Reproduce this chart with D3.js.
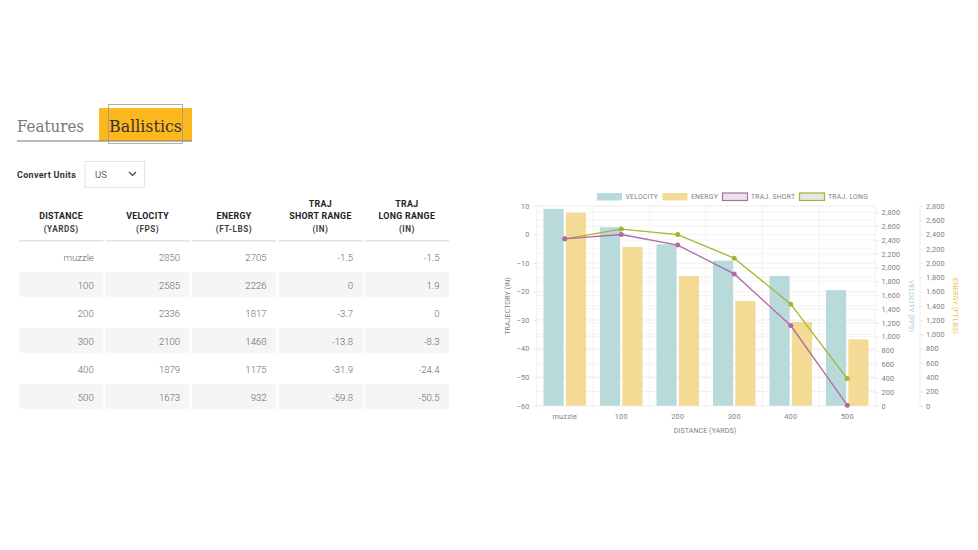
<!DOCTYPE html>
<html>
<head>
<meta charset="utf-8">
<script src="https://cdn.jsdelivr.net/npm/d3@7"></script>
<style>
  html, body { margin: 0; padding: 0; background: #fff; }
  svg { display: block; font-family: Roboto, sans-serif; }
  .axis path { display: none; }
  .axis line { stroke: #e6e6e6; }
  .axis text { fill: #808080; font-size: 7.3px; letter-spacing: 0.2px; font-family: Roboto, sans-serif; }
  .title { fill: #808080; font-size: 7px; letter-spacing: 0.1px; }
</style>
</head>
<body>
<div id="chart"></div>
<script>
// table + chart data
const distances = ['muzzle', '100', '200', '300', '400', '500'];
const velocity = [2850, 2585, 2336, 2100, 1879, 1673];
const energy = [2705, 2226, 1817, 1468, 1175, 932];
const trajShort = [-1.5, 0, -3.7, -13.8, -31.9, -59.8];
const trajLong = [-1.5, 1.9, 0, -8.3, -24.4, -50.5];
const trajTicks = [-60, -50, -40, -30, -20, -10, 0, 10];
const powerTicks = [0, 200, 400, 600, 800, 1000, 1200, 1400, 1600, 1800, 2000, 2200, 2400, 2600, 2800];
const headers = [
    ['DISTANCE', '(YARDS)'],
    ['VELOCITY', '(FPS)'],
    ['ENERGY', '(FT-LBS)'],
    ['TRAJ', 'SHORT RANGE', '(IN)'],
    ['TRAJ', 'LONG RANGE', '(IN)']
];
const legendItems = ['VELOCITY', 'ENERGY', 'TRAJ. SHORT', 'TRAJ. LONG'];

const width = 978, height = 550;
const colors = { velocity: '#b9dadb', energy: '#f3da95', short: '#b469a5', long: '#a5b52f' };

const svg = d3.select('#chart').append('svg')
    .attr('width', width)
    .attr('height', height)
    .attr('viewBox', [0, 0, width, height]);

// tabs
svg.append('rect').attr('x', 99).attr('y', 108).attr('width', 93).attr('height', 33).attr('fill', '#fdb81e');
svg.append('line').attr('x1', 17).attr('x2', 192).attr('y1', 141).attr('y2', 141).attr('stroke', '#777').attr('stroke-width', 1);
svg.append('rect').attr('x', 108.5).attr('y', 104.5).attr('width', 74).attr('height', 39)
    .attr('fill', 'none').attr('stroke', '#999').attr('stroke-width', 0.8);
svg.append('text').attr('x', 17).attr('y', 132).text('Features')
    .attr('font-family', 'DejaVu Serif').attr('font-size', 16).attr('fill', '#777')
    .attr('textLength', 67).attr('lengthAdjust', 'spacingAndGlyphs');
svg.append('text').attr('x', 109).attr('y', 132).text('Ballistics')
    .attr('font-family', 'DejaVu Serif').attr('font-size', 16).attr('fill', '#333')
    .attr('textLength', 73).attr('lengthAdjust', 'spacingAndGlyphs');

// units select
svg.append('text').attr('x', 17).attr('y', 177.5).text('Convert Units')
    .attr('font-size', 9).attr('font-weight', 700).attr('letter-spacing', 0.3).attr('fill', '#333');
svg.append('rect').attr('x', 85).attr('y', 161.5).attr('width', 59.5).attr('height', 26)
    .attr('fill', '#fff').attr('stroke', '#e4e4e4');
svg.append('text').attr('x', 95).attr('y', 177.5).text('US').attr('font-size', 9.5).attr('fill', '#666');
svg.append('path').attr('d', d3.line()([[129, 172], [132.5, 175.5], [136, 172]]))
    .attr('fill', 'none').attr('stroke', '#444').attr('stroke-width', 1.2);

// table
const colX = d3.scaleBand().domain(d3.range(5)).range([19, 449]).paddingInner(0.025);
const rowY = d3.scaleBand().domain(d3.range(6)).range([242.5, 410.5]);
const tableCols = [distances, velocity, energy, trajShort, trajLong];

const cols = svg.append('g').selectAll('g')
    .data(tableCols)
    .join('g')
    .attr('transform', (d, i) => `translate(${colX(i)},0)`);

cols.append('rect')
    .attr('y', 240)
    .attr('width', colX.bandwidth())
    .attr('height', 1.5)
    .attr('fill', '#e3e3e3');

cols.selectAll('.stripe')
    .data(d => d)
    .join('rect')
    .attr('class', 'stripe')
    .attr('y', (d, i) => rowY(i) + 1.5)
    .attr('width', colX.bandwidth())
    .attr('height', 24.7)
    .attr('fill', (d, i) => i % 2 ? '#f5f5f5' : 'none');

cols.selectAll('.val')
    .data(d => d)
    .join('text')
    .attr('class', 'val')
    .attr('x', colX.bandwidth() - 9.5)
    .attr('y', (d, i) => rowY(i) + 18)
    .attr('text-anchor', 'end')
    .attr('font-size', 9.6)
    .attr('font-weight', 300)
    .attr('fill', '#666')
    .text(d => d);

headers.forEach((lines, i) => {
    const bottom = 231.5;
    svg.append('g').selectAll('text')
        .data(lines)
        .join('text')
        .attr('x', colX(i) + colX.bandwidth() / 2)
        .attr('y', (d, j) => bottom - (lines.length - 1 - j) * 12.5)
        .attr('text-anchor', 'middle')
        .attr('font-size', (d, j) => j == lines.length - 1 ? 8.2 : 8.8)
        .attr('font-weight', 700)
        .attr('letter-spacing', (d, j) => j == lines.length - 1 ? 0.5 : 0.3)
        .attr('fill', (d, j) => j == lines.length - 1 ? '#444' : '#222')
        .text(d => d);
});

// chart scales
const plot = { left: 536.5, right: 875.5, top: 206, bottom: 405.7 };

const x = d3.scaleBand().domain(distances).range([plot.left, plot.right]);
const xBars = d3.scaleBand().domain(['velocity', 'energy']).range([7, 49.5]).paddingInner(0.1);
const yTraj = d3.scaleLinear().domain([-60, 10]).range([plot.bottom, plot.top]);
const yVel = d3.scaleLinear().domain([0, 2800]).range([plot.bottom, 212.3]);
const yEng = d3.scaleLinear().domain([0, 2800]).range([plot.bottom, plot.top]);

// grid
const grid = svg.append('g').attr('stroke', '#f0f0f0').attr('stroke-width', 0.8);
grid.selectAll('.h1').data(trajTicks).join('line').attr('class', 'h1')
    .attr('x1', plot.left).attr('x2', plot.right).attr('y1', d => yTraj(d)).attr('y2', d => yTraj(d));
grid.selectAll('.h2').data(powerTicks).join('line').attr('class', 'h2')
    .attr('x1', plot.left).attr('x2', plot.right).attr('y1', d => yVel(d)).attr('y2', d => yVel(d));
grid.selectAll('.h3').data(powerTicks).join('line').attr('class', 'h3')
    .attr('x1', plot.left).attr('x2', plot.right).attr('y1', d => yEng(d)).attr('y2', d => yEng(d));
grid.selectAll('.v').data(distances).join('line').attr('class', 'v')
    .attr('x1', d => x(d)).attr('x2', d => x(d)).attr('y1', plot.top).attr('y2', plot.bottom + 4);
grid.append('line').attr('x1', plot.right).attr('x2', plot.right).attr('y1', plot.top).attr('y2', plot.bottom + 4);

// bars
svg.append('g').selectAll('rect')
    .data(velocity)
    .join('rect')
    .attr('x', (d, i) => x(distances[i]) + xBars('velocity'))
    .attr('y', d => yVel(d))
    .attr('width', xBars.bandwidth())
    .attr('height', d => plot.bottom - yVel(d))
    .attr('fill', colors.velocity);

svg.append('g').selectAll('rect')
    .data(energy)
    .join('rect')
    .attr('x', (d, i) => x(distances[i]) + xBars('energy'))
    .attr('y', d => yEng(d))
    .attr('width', xBars.bandwidth())
    .attr('height', d => plot.bottom - yEng(d))
    .attr('fill', colors.energy);

// traj lines, short goes on top
const trajLine = d3.line()
    .x((d, i) => x(distances[i]) + x.bandwidth() / 2)
    .y(d => yTraj(d));

[[trajLong, colors.long], [trajShort, colors.short]].forEach(([vals, color]) => {
    svg.append('path').attr('d', trajLine(vals))
        .attr('fill', 'none').attr('stroke', color).attr('stroke-width', 1.3);
    svg.append('g').selectAll('circle')
        .data(vals)
        .join('circle')
        .attr('cx', (d, i) => x(distances[i]) + x.bandwidth() / 2)
        .attr('cy', d => yTraj(d))
        .attr('r', 2.5)
        .attr('fill', color);
});

// axes
svg.append('g').attr('class', 'axis')
    .attr('transform', `translate(${plot.left},0)`)
    .call(d3.axisLeft(yTraj).tickValues(trajTicks).tickSize(3).tickPadding(4));

svg.append('g').attr('class', 'axis')
    .attr('transform', `translate(0,${plot.bottom})`)
    .call(d3.axisBottom(x).tickSize(0).tickPadding(8));

svg.append('g').attr('class', 'axis')
    .attr('transform', `translate(${plot.right},0)`)
    .call(d3.axisRight(yVel).tickValues(powerTicks).tickFormat(d3.format(',')).tickSize(3).tickPadding(3));

svg.append('g').attr('class', 'axis')
    .attr('transform', 'translate(920,0)')
    .call(d3.axisRight(yEng).tickValues(powerTicks).tickFormat(d3.format(',')).tickSize(3).tickPadding(3));

svg.append('line').attr('x1', 920).attr('x2', 920).attr('y1', plot.top).attr('y2', plot.bottom).attr('stroke', '#eee');

// axis titles
svg.append('text').attr('class', 'title').attr('text-anchor', 'middle')
    .attr('transform', 'translate(510,306) rotate(-90)').text('TRAJECTORY (IN)');
svg.append('text').attr('class', 'title').attr('text-anchor', 'middle')
    .attr('x', 705).attr('y', 433).text('DISTANCE (YARDS)');
svg.append('text').attr('class', 'title').attr('text-anchor', 'middle')
    .attr('transform', 'translate(909,306) rotate(90)').style('fill', '#9fcfd0').text('VELOCITY (FPS)');
svg.append('text').attr('class', 'title').attr('text-anchor', 'middle')
    .attr('transform', 'translate(953,306) rotate(90)').style('fill', '#e8c65f').text('ENERGY (FT-LBS)');

// legend
const legendX = d3.scaleOrdinal().domain(legendItems).range([597, 662.5, 722.5, 799.5]);
const legendFill = d3.scaleOrdinal().domain(legendItems).range([colors.velocity, colors.energy, '#e6e6e6', '#e6e6e6']);
const legendStroke = d3.scaleOrdinal().domain(legendItems).range(['none', 'none', colors.short, colors.long]);

const legend = svg.append('g').selectAll('g')
    .data(legendItems)
    .join('g')
    .attr('transform', d => `translate(${legendX(d)},193)`);

legend.append('rect')
    .attr('width', 25)
    .attr('height', 7.5)
    .attr('fill', d => legendFill(d))
    .attr('stroke', d => legendStroke(d))
    .attr('stroke-width', 1.2);

legend.append('text')
    .attr('x', 28.5)
    .attr('y', 6)
    .attr('font-size', 6.8)
    .attr('letter-spacing', 0.25)
    .attr('fill', '#808080')
    .text(d => d);
</script>
</body>
</html>
